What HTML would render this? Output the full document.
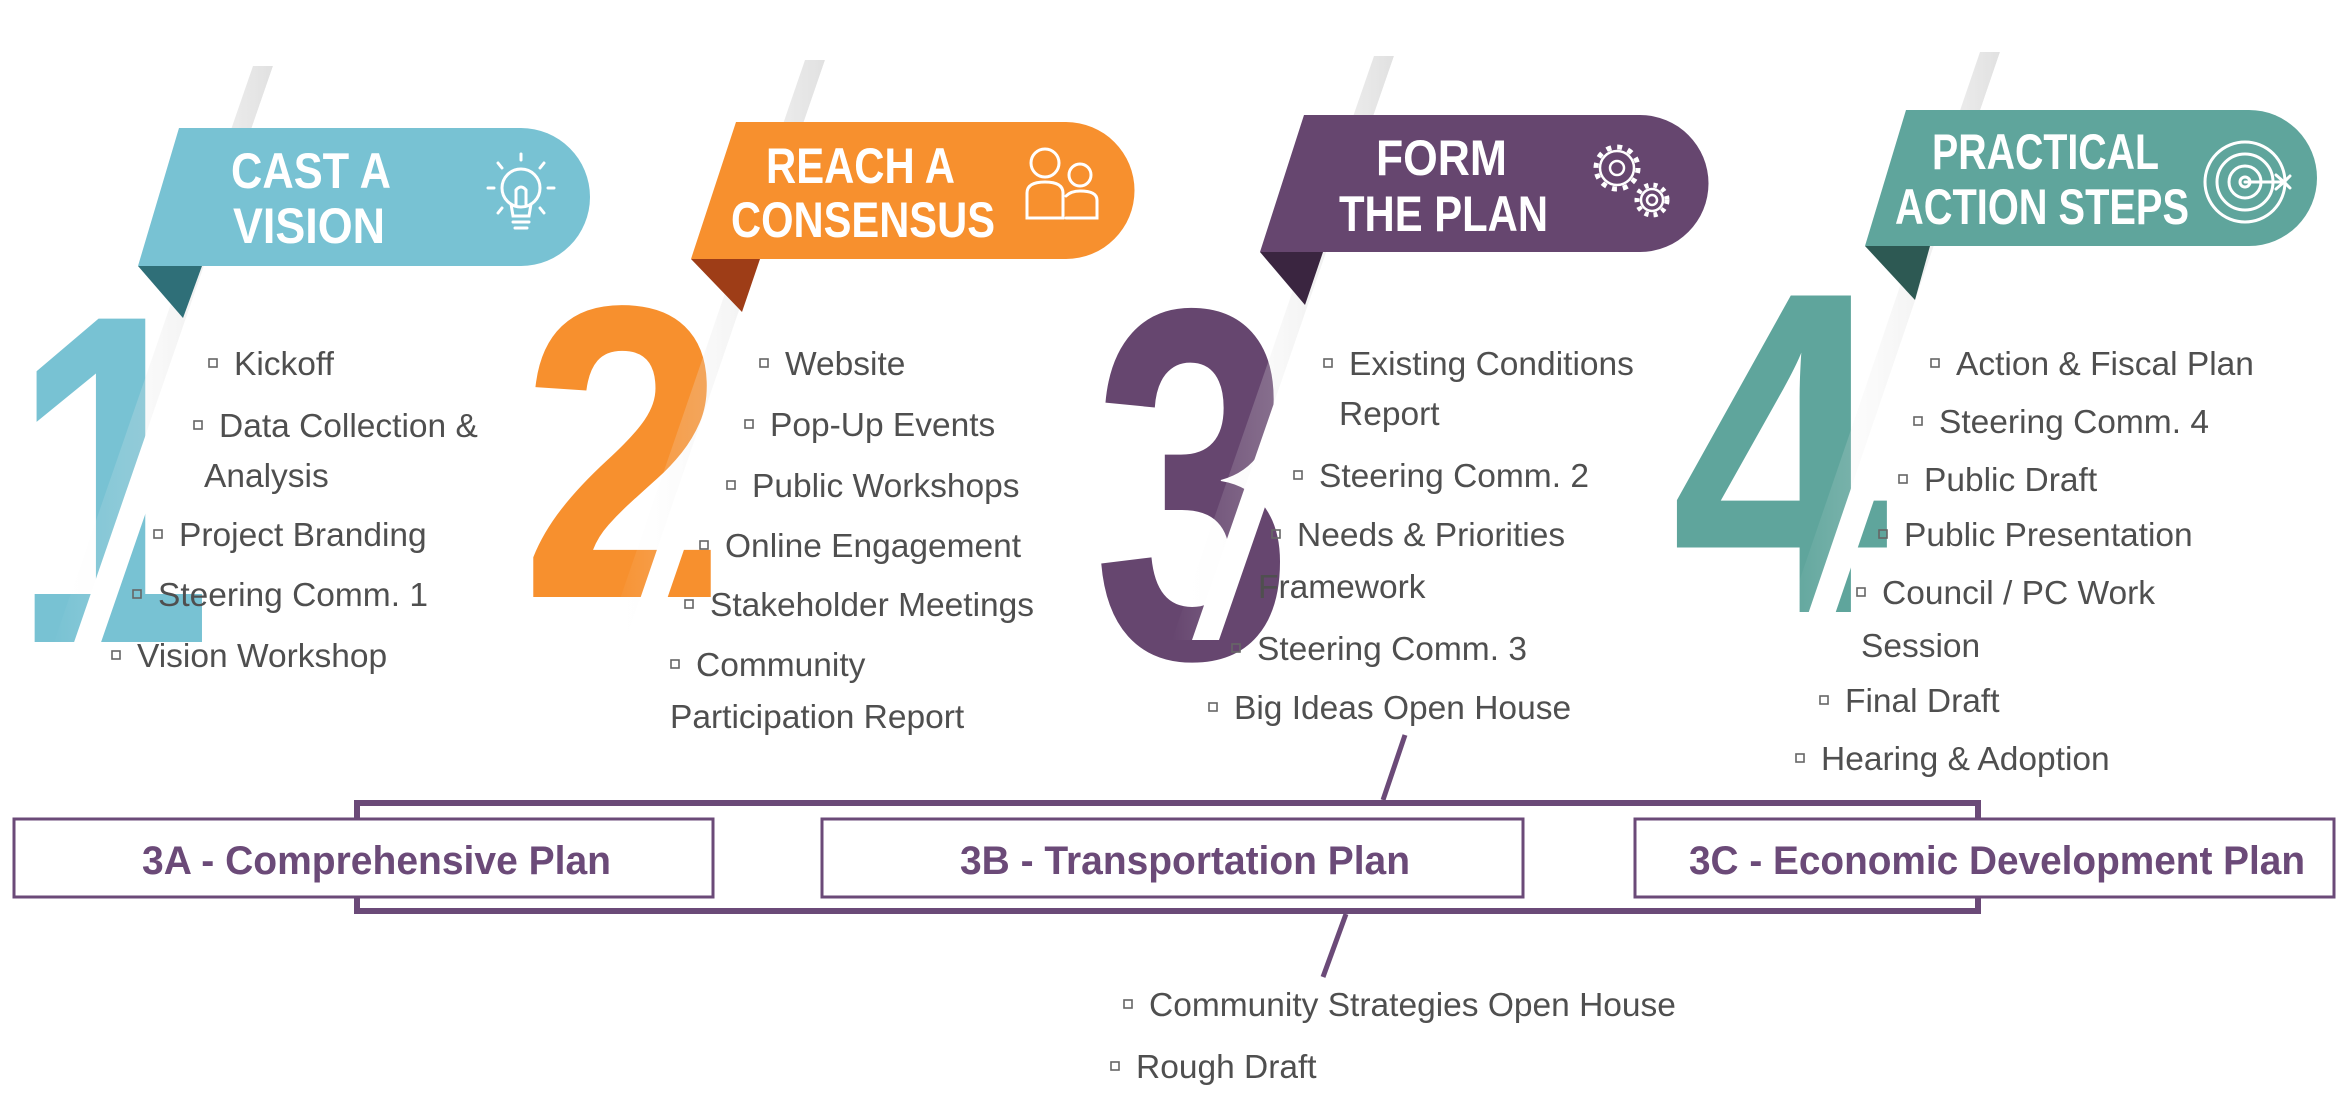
<!DOCTYPE html>
<html><head><meta charset="utf-8"><style>
html,body{margin:0;padding:0;background:#fff;}
svg{display:block}
.t{font-family:"Liberation Sans",sans-serif;font-size:33.5px;fill:#4f4f4f}
.h{font-family:"Liberation Sans",sans-serif;font-weight:bold;fill:#fff}
.b{font-family:"Liberation Sans",sans-serif;font-weight:bold;font-size:40px;fill:#6b4a78}
.n{font-family:"Liberation Sans",sans-serif;font-weight:bold}
</style></head><body>
<svg width="2340" height="1096" viewBox="0 0 2340 1096" xmlns="http://www.w3.org/2000/svg">
<defs>
<linearGradient id="sh" x1="0" y1="0" x2="1" y2="0">
<stop offset="0" stop-color="#fff" stop-opacity="0"/>
<stop offset="1" stop-color="#c8c8c8" stop-opacity="0.55"/>
</linearGradient>
</defs>

<text class="n" x="112" y="642" font-size="470" fill="#78c2d3" text-anchor="middle" textLength="200" lengthAdjust="spacingAndGlyphs">1</text>
<text class="n" x="623" y="597" font-size="418" fill="#f7902e" text-anchor="middle" textLength="205" lengthAdjust="spacingAndGlyphs">2</text>
<text class="n" x="1193" y="657" font-size="500" fill="#66466f" text-anchor="middle" textLength="200" lengthAdjust="spacingAndGlyphs">3</text>
<text class="n" x="1780" y="612" font-size="460" fill="#5fa59c" text-anchor="middle" textLength="218" lengthAdjust="spacingAndGlyphs">4</text>

<g>
<polygon points="253,66 273,66 71,651 51,651" fill="url(#sh)"/>
<polygon points="273,66 300,66 98,651 71,651" fill="#fff"/>
<polygon points="805,60 825,60 627,637 607,637" fill="url(#sh)"/>
<polygon points="825,60 852,60 654,637 627,637" fill="#fff"/>
<polygon points="1374,56 1394,56 1192,640 1172,640" fill="url(#sh)"/>
<polygon points="1394,56 1421,56 1219,640 1192,640" fill="#fff"/>
<polygon points="1980,52 2000,52 1805,623 1785,623" fill="url(#sh)"/>
<polygon points="2000,52 2027,52 1832,623 1805,623" fill="#fff"/>
</g>

<polygon points="138,266 202,266 183,318" fill="#2f6f78"/>
<path d="M179,128 L521,128 A69,69 0 0 1 521,266 L138,266 Z" fill="#78c2d3"/>
<polygon points="691,259 760,259 742,312" fill="#9e3d17"/>
<path d="M736,122 L1066,122 A68.5,68.5 0 0 1 1066,259 L691,259 Z" fill="#f7902e"/>
<polygon points="1260,252 1323,252 1305,305" fill="#3a2540"/>
<path d="M1304,115 L1640,115 A68.5,68.5 0 0 1 1640,252 L1260,252 Z" fill="#66466f"/>
<polygon points="1865,246 1930,246 1915,300" fill="#2d5953"/>
<path d="M1906,110 L2249,110 A68,68 0 0 1 2249,246 L1865,246 Z" fill="#5fa59c"/>

<text class="h" x="231" y="188" font-size="50" textLength="160" lengthAdjust="spacingAndGlyphs">CAST A</text>
<text class="h" x="233" y="243" font-size="50" textLength="152" lengthAdjust="spacingAndGlyphs">VISION</text>
<text class="h" x="766" y="183" font-size="50" textLength="189" lengthAdjust="spacingAndGlyphs">REACH A</text>
<text class="h" x="731" y="237" font-size="50" textLength="264" lengthAdjust="spacingAndGlyphs">CONSENSUS</text>
<text class="h" x="1376" y="175" font-size="50" textLength="131" lengthAdjust="spacingAndGlyphs">FORM</text>
<text class="h" x="1339" y="231" font-size="50" textLength="209" lengthAdjust="spacingAndGlyphs">THE PLAN</text>
<text class="h" x="1932" y="169" font-size="50" textLength="227" lengthAdjust="spacingAndGlyphs">PRACTICAL</text>
<text class="h" x="1895" y="224" font-size="50" textLength="294" lengthAdjust="spacingAndGlyphs">ACTION STEPS</text>

<g stroke="#fff" stroke-width="3" fill="none" stroke-linecap="round">
<circle cx="521" cy="188" r="19"/>
<path d="M511,204 L513,216 L529,216 L531,204"/>
<path d="M513,222 L529,222 M515,228 L527,228"/>
<path d="M516,205 L516,190 M526,205 L526,190 M516,190 Q521,184 526,190"/>
<path d="M521,154 L521,160 M494,188 L488,188 M548,188 L554,188 M502,168 L498,163 M540,168 L544,163 M502,208 L498,213 M540,208 L544,213"/>
<circle cx="1045" cy="163" r="14"/>
<path d="M1027,218 L1027,193 Q1027,182 1045,182 Q1063,182 1063,193 L1063,218 Z"/>
<circle cx="1080" cy="175" r="11"/>
<path d="M1066,218 L1097,218 L1097,200 Q1097,191 1080,191 Q1071,191 1066,196"/>
<circle cx="1617" cy="168" r="21" stroke-width="5" stroke-dasharray="5 6" stroke-linecap="butt"/>
<circle cx="1617" cy="168" r="17" stroke-width="2.5"/>
<circle cx="1617" cy="168" r="7" stroke-width="2.5"/>
<circle cx="1652" cy="200" r="15" stroke-width="5" stroke-dasharray="4 5" stroke-linecap="butt"/>
<circle cx="1652" cy="200" r="11" stroke-width="2.5"/>
<circle cx="1652" cy="200" r="5" stroke-width="2.5"/>
<circle cx="2245" cy="182" r="40"/>
<circle cx="2245" cy="182" r="28"/>
<circle cx="2245" cy="182" r="16"/>
<circle cx="2245" cy="182" r="5"/>
<path d="M2245,182 L2282,182 M2276,175 L2284,182 L2276,189 M2290,176 L2284,182 L2290,188"/>
</g>

<g fill="none" stroke="#666" stroke-width="1.6">
<rect x="209" y="359" width="8" height="8"/>
<rect x="194" y="421" width="8" height="8"/>
<rect x="154" y="530" width="8" height="8"/>
<rect x="133" y="590" width="8" height="8"/>
<rect x="112" y="651" width="8" height="8"/>
<rect x="760" y="359" width="8" height="8"/>
<rect x="745" y="420" width="8" height="8"/>
<rect x="727" y="481" width="8" height="8"/>
<rect x="700" y="541" width="8" height="8"/>
<rect x="685" y="600" width="8" height="8"/>
<rect x="671" y="660" width="8" height="8"/>
<rect x="1324" y="359" width="8" height="8"/>
<rect x="1294" y="471" width="8" height="8"/>
<rect x="1272" y="530" width="8" height="8"/>
<rect x="1232" y="644" width="8" height="8"/>
<rect x="1209" y="703" width="8" height="8"/>
<rect x="1931" y="359" width="8" height="8"/>
<rect x="1914" y="417" width="8" height="8"/>
<rect x="1899" y="475" width="8" height="8"/>
<rect x="1879" y="530" width="8" height="8"/>
<rect x="1857" y="588" width="8" height="8"/>
<rect x="1820" y="696" width="8" height="8"/>
<rect x="1796" y="754" width="8" height="8"/>
<rect x="1124" y="1000" width="8" height="8"/>
<rect x="1111" y="1062" width="8" height="8"/>
</g>
<g class="t">
<text x="234" y="375">Kickoff</text>
<text x="219" y="437">Data Collection &amp;</text>
<text x="204" y="487">Analysis</text>
<text x="179" y="546">Project Branding</text>
<text x="158" y="606">Steering Comm. 1</text>
<text x="137" y="667">Vision Workshop</text>

<text x="785" y="375">Website</text>
<text x="770" y="436">Pop-Up Events</text>
<text x="752" y="497">Public Workshops</text>
<text x="725" y="557">Online Engagement</text>
<text x="710" y="616">Stakeholder Meetings</text>
<text x="696" y="676">Community</text>
<text x="670" y="728">Participation Report</text>

<text x="1349" y="375">Existing Conditions</text>
<text x="1339" y="425">Report</text>
<text x="1319" y="487">Steering Comm. 2</text>
<text x="1297" y="546">Needs &amp; Priorities</text>
<text x="1258" y="598">Framework</text>
<text x="1257" y="660">Steering Comm. 3</text>
<text x="1234" y="719">Big Ideas Open House</text>

<text x="1956" y="375">Action &amp; Fiscal Plan</text>
<text x="1939" y="433">Steering Comm. 4</text>
<text x="1924" y="491">Public Draft</text>
<text x="1904" y="546">Public Presentation</text>
<text x="1882" y="604">Council / PC Work</text>
<text x="1861" y="657">Session</text>
<text x="1845" y="712">Final Draft</text>
<text x="1821" y="770">Hearing &amp; Adoption</text>

<text x="1149" y="1016">Community Strategies Open House</text>
<text x="1136" y="1078">Rough Draft</text>
</g>

<rect x="357" y="803" width="1621" height="108" fill="none" stroke="#6b4a78" stroke-width="6"/>
<rect x="14" y="819" width="699" height="78" fill="#fff" stroke="#6b4a78" stroke-width="3"/>
<rect x="822" y="819" width="701" height="78" fill="#fff" stroke="#6b4a78" stroke-width="3"/>
<rect x="1635" y="819" width="699" height="78" fill="#fff" stroke="#6b4a78" stroke-width="3"/>
<text class="b" x="142" y="874" textLength="469" lengthAdjust="spacingAndGlyphs">3A - Comprehensive Plan</text>
<text class="b" x="960" y="874" textLength="450" lengthAdjust="spacingAndGlyphs">3B - Transportation Plan</text>
<text class="b" x="1689" y="874" textLength="616" lengthAdjust="spacingAndGlyphs">3C - Economic Development Plan</text>

<g stroke="#6b4a78" stroke-width="5">
<line x1="1405" y1="735" x2="1383" y2="800"/>
<line x1="1346" y1="914" x2="1323" y2="977"/>
</g>
</svg>
</body></html>
